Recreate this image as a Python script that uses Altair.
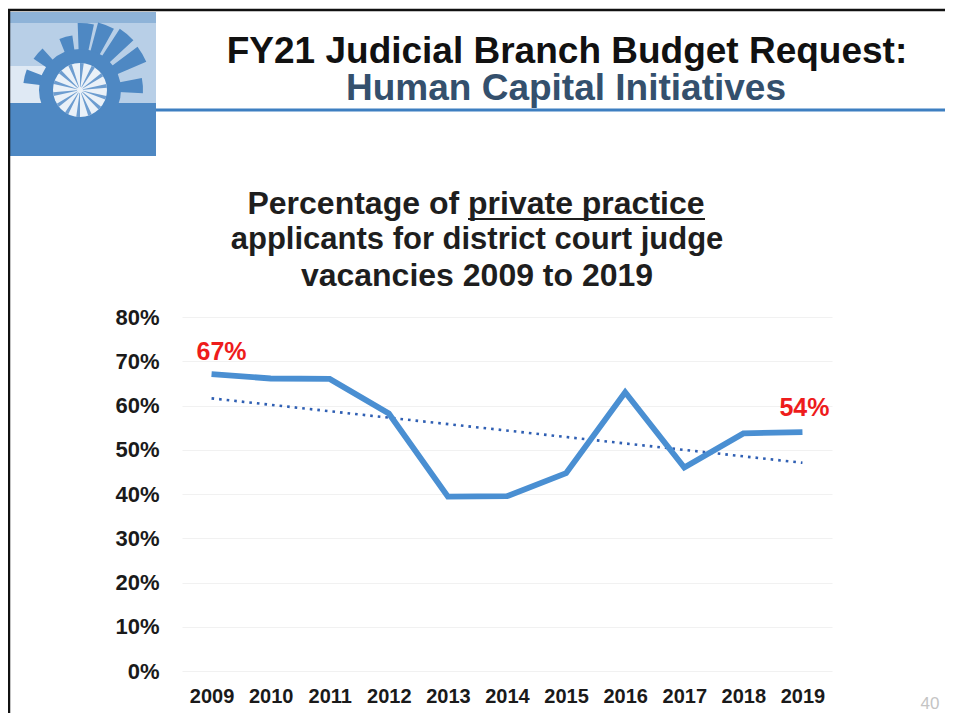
import math
import altair as alt
import pandas as pd

# ---------------- data ----------------
years = [2009, 2010, 2011, 2012, 2013, 2014, 2015, 2016, 2017, 2018, 2019]
pct_private = [67.1, 66.1, 66.0, 58.2, 39.4, 39.5, 44.7, 63.0, 46.0, 53.7, 54.0]
y_ticks = [0, 10, 20, 30, 40, 50, 60, 70, 80]

header_line1 = "FY21 Judicial Branch Budget Request:"
header_line2 = "Human Capital Initiatives"
title_lines = [
    "Percentage of private practice",
    "applicants for district court judge",
    "vacancies 2009 to 2019",
]
page_number = "40"

df = pd.DataFrame({"year": years, "value": pct_private})
one = pd.DataFrame({"k": [0]})

# ---------------- layout helpers ----------------
W, H = 650, 354
PAD = {"left": 174, "top": 309, "right": 113, "bottom": 42}
OX, OY = 8 + PAD["left"], 8 + PAD["top"]  # page position of plot origin
FONT = "Liberation Sans"


def px(x):
    return x - OX


def py(y):
    return y - OY


def text_at(t, x, y, size, color, weight="bold", align="center"):
    return alt.Chart(one).mark_text(
        text=t, font=FONT, fontSize=size, fontWeight=weight, color=color,
        align=align, baseline="middle"
    ).encode(x=alt.value(px(x)), y=alt.value(py(y)))


def rect_at(x1, y1, x2, y2, color):
    return alt.Chart(one).mark_rect(color=color).encode(
        x=alt.value(px(x1)), x2=alt.value(px(x2)),
        y=alt.value(py(y1)), y2=alt.value(py(y2)))


def rule_at(x1, y1, x2, y2, color, w):
    return alt.Chart(one).mark_rule(color=color, strokeWidth=w).encode(
        x=alt.value(px(x1)), x2=alt.value(px(x2)),
        y=alt.value(py(y1)), y2=alt.value(py(y2)))


def arc_at(cx, cy, deg1, deg2, r0, r1, color):
    t1 = math.radians(deg1 % 360)
    t2 = t1 + math.radians(deg2 - deg1)
    return alt.Chart(one).mark_arc(color=color).encode(
        x=alt.value(px(cx)), y=alt.value(py(cy)),
        theta=alt.value(t1), theta2=alt.value(t2),
        radius=alt.value(r1), radius2=alt.value(r0))


# ---------------- decoration (slide frame, logo, titles) ----------------
decor = []
LOGO_DARK = "#4e88c3"
decor.append(rect_at(10, 12, 156, 156, "#b8cfe7"))
decor.append(rect_at(10, 12, 156, 23, "#8eb3d8"))
decor.append(rect_at(10, 66, 48, 103, "#dfe9f4"))
cx, cy = 80, 90
ray_angles = [-76, -49, -15, 5, 22, 40, 60, 86]
ray_len = [57, 56, 55, 67, 70, 73, 72, 63]
for a, r in zip(ray_angles, ray_len):
    decor.append(arc_at(cx, cy, a - 7, a + 7, 34, r, LOGO_DARK))
decor.append(arc_at(cx, cy, 0, 360, 0, 41, LOGO_DARK))
decor.append(rect_at(10, 103, 156, 156, LOGO_DARK))
decor.append(arc_at(cx, cy, 0, 360, 0, 27, "#eaf1f8"))
for k in range(14):
    a = k * (360 / 14)
    decor.append(arc_at(cx, cy, a, a + 8, 3, 27, "#6d9dd0"))
# frame lines
decor.append(rule_at(8, 10, 945, 10, "#111111", 2.5))
decor.append(rule_at(9, 10, 9, 715, "#111111", 2.5))
decor.append(rule_at(156, 110, 945, 110, "#3d7fc1", 3))
# header titles
decor.append(text_at(header_line1, 567, 52, 37, "#111111"))
decor.append(text_at(header_line2, 566, 89, 37, "#34506d"))
# chart title
decor.append(text_at(title_lines[0], 476, 204, 32, "#1e1e1e"))
decor.append(rule_at(468, 219, 705, 219, "#1e1e1e", 2))
decor.append(text_at(title_lines[1], 477, 240, 31, "#1e1e1e"))
decor.append(text_at(title_lines[2], 477, 276, 32, "#1e1e1e"))
# page number
decor.append(text_at(page_number, 930, 704, 17, "#c4c4c4", weight="normal"))

# ---------------- chart ----------------
x_enc = alt.X(
    "year:Q",
    scale=alt.Scale(domain=[2008.5, 2019.5], nice=False, zero=False),
    axis=alt.Axis(values=years, format="d", title=None, grid=False, ticks=False,
                  domain=False, labelFont=FONT, labelFontSize=20,
                  labelFontWeight="bold", labelColor="#1a1a1a", labelPadding=15),
)
y_enc = alt.Y(
    "value:Q",
    scale=alt.Scale(domain=[0, 80], nice=False),
    axis=alt.Axis(values=y_ticks, labelExpr="datum.value + '%'", title=None,
                  ticks=False, domain=False, grid=True, gridColor="#f1f1f1",
                  labelFont=FONT, labelFontSize=22, labelFontWeight="bold",
                  labelColor="#1a1a1a", labelPadding=23),
)

base = alt.Chart(df)
trend = base.transform_regression("year", "value", extent=[2009, 2019]).mark_line(
    color="#2f5fb3", strokeWidth=2.6, strokeDash=[2.6, 5]
).encode(x=x_enc, y=y_enc)

line = base.mark_line(color="#4a8fd2", strokeWidth=5.8, strokeJoin="miter").encode(
    x=x_enc, y=y_enc)

lab_first = base.transform_filter("datum.year == 2009").transform_calculate(
    lbl="format(datum.value, '.0f') + '%'"
).mark_text(color="#ee1c1c", fontSize=25, fontWeight="bold", font=FONT,
            dx=10, dy=-22).encode(x=x_enc, y=y_enc, text="lbl:N")
lab_last = base.transform_filter("datum.year == 2019").transform_calculate(
    lbl="format(datum.value, '.0f') + '%'"
).mark_text(color="#ee1c1c", fontSize=25, fontWeight="bold", font=FONT,
            dx=2, dy=-24).encode(x=x_enc, y=y_enc, text="lbl:N")

chart = alt.layer(*decor, trend, line, lab_first, lab_last).properties(
    width=W, height=H,
    autosize=alt.AutoSizeParams(type="none"),
    padding=PAD,
    background="white",
).configure_view(strokeWidth=0)

chart.save("out.html", embed_options={"renderer": "svg", "actions": False})
